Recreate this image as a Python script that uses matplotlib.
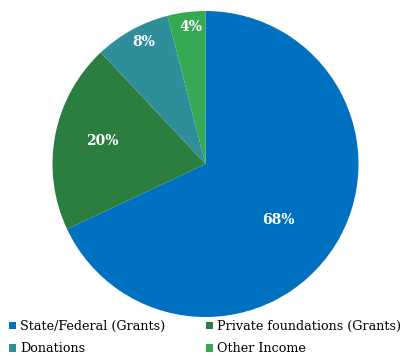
import matplotlib
matplotlib.use("Agg")
import matplotlib.pyplot as plt
import numpy as np
from matplotlib.patches import Patch

categories = ["State/Federal (Grants)", "Private foundations (Grants)", "Donations", "Other Income"]
values = [68, 20, 8, 4]
labels = ["68%", "20%", "8%", "4%"]
colors = ["#0070C0", "#2B7D40", "#2E8E99", "#35A853"]
label_radius = [0.60, 0.69, 0.89, 0.90]
label_angle_shift = [-5.5, -2, -2, -1]

fig = plt.figure(figsize=(4.03, 3.57), dpi=100)
W, H = 403, 357
cx, cy, r = 205.5, 164, 153
ax = fig.add_axes([(cx - r) / W, (H - cy - r) / H, 2 * r / W, 2 * r / H])
wedges, _ = ax.pie(values, colors=colors, startangle=90, counterclock=False,
                   radius=1.0, wedgeprops=dict(linewidth=0))
ax.set_xlim(-1, 1)
ax.set_ylim(-1, 1)
ax.set_aspect("equal")
ax.axis("off")

for w, lab, rr, sh in zip(wedges, labels, label_radius, label_angle_shift):
    ang = np.deg2rad((w.theta1 + w.theta2) / 2 + sh)
    ax.text(rr * np.cos(ang), rr * np.sin(ang), lab, ha="center", va="center",
            color="white", fontsize=10, fontweight="bold", family="DejaVu Serif")

order = [0, 2, 1, 3]
handles = [Patch(facecolor=colors[i], edgecolor="none") for i in order]
leg_labels = [categories[i] for i in order]
fig.legend(handles, leg_labels, ncol=2, loc="lower left",
           bbox_to_anchor=(9 / W, 1.5 / H), frameon=False,
           prop={"family": "DejaVu Serif", "size": 9.2},
           handlelength=0.55, handleheight=0.55, handletextpad=0.3,
           columnspacing=3.2, labelspacing=0.75, borderpad=0.0,
           borderaxespad=0.0)

fig.savefig("out.png", dpi=100)
